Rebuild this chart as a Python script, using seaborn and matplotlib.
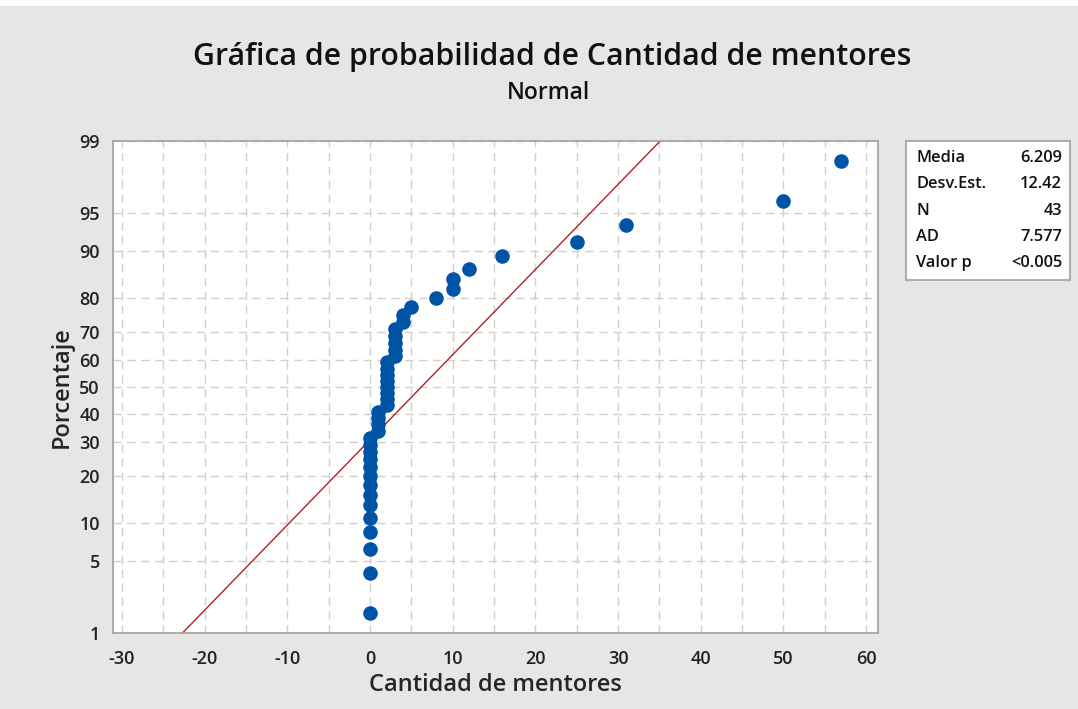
import numpy as np
import pandas as pd
import seaborn as sns
import matplotlib
matplotlib.use("Agg")
from matplotlib import pyplot as plt
from statistics import NormalDist

# values (n = 43)
mentores = [0]*14 + [1]*4 + [2]*8 + [3]*5 + [4, 4, 5, 8, 10, 10, 12, 16, 25, 31, 50, 57]
pct_ticks = [1, 5, 10, 20, 30, 40, 50, 60, 70, 80, 90, 95, 99]
x_ticks = [-30, -20, -10, 0, 10, 20, 30, 40, 50, 60]
stat_names = ["Media", "Desv.Est.", "N", "AD", "Valor p"]
stat_vals = ["6.209", "12.42", "43", "7.577", "<0.005"]

nd = NormalDist()
n = len(mentores)
df = pd.DataFrame({"x": sorted(mentores)})
# median ranks as used by Minitab
df["z"] = [nd.inv_cdf((i - 0.3) / (n + 0.4)) for i in range(1, n + 1)]

mu = np.mean(mentores)
sd = np.std(mentores, ddof=1)

sns.set_style("white")
plt.rcParams['font.family'] = ['Open Sans', 'DejaVu Sans']

fig = plt.figure(figsize=(10.78, 7.09), dpi=100)
fig.patch.set_facecolor("#e6e6e6")
# thin white strip on top like the screenshot
fig.patches.append(plt.Rectangle((0, 1-6/709), 1, 6/709, transform=fig.transFigure,
                                 facecolor="white", edgecolor="none"))

ax = fig.add_axes([113/1078, 1-633/709, 765/1078, 492/709])
ax.set_facecolor("white")

zlo, zhi = nd.inv_cdf(0.01), nd.inv_cdf(0.99)
# fitted line
ax.plot([mu + sd*zlo, mu + sd*zhi], [zlo, zhi], color="#b22222", lw=1.0, zorder=2)
sns.scatterplot(data=df, x="x", y="z", ax=ax, color="#0054a6", s=110,
                edgecolor="#0054a6", linewidth=0, zorder=3)

ax.set_xlim(-30 - 9/8.267, 60 + 12/8.267)
ax.set_ylim(zlo, zhi)
ax.set_xticks(x_ticks)
ax.set_xticks(np.arange(-30, 61, 5), minor=True)
ax.set_xticklabels([str(t) for t in x_ticks], fontsize=13, fontweight="semibold")
ax.set_yticks([nd.inv_cdf(p/100) for p in pct_ticks])
ax.set_yticklabels([str(p) for p in pct_ticks], fontsize=13, fontweight="semibold")
ax.tick_params(axis="both", which="both", direction="out", color="#909090",
               length=6, width=1, labelcolor="#222222")
ax.tick_params(axis="x", which="minor", length=4)
ax.tick_params(axis="x", which="major", pad=6)
ax.grid(True, which="both", axis="x", color="#d0d0d0", ls=(0, (6, 4)), lw=1)
ax.grid(True, which="major", axis="y", color="#d0d0d0", ls=(0, (6, 4)), lw=1)
for s in ax.spines.values():
    s.set_color("#a0a0a0")
    s.set_linewidth(1.2)
ax.set_xlabel("Cantidad de mentores", fontsize=17, fontweight="semibold", labelpad=4)
ax.set_ylabel("Porcentaje", fontsize=17, fontweight="semibold", labelpad=4)

fig.text(0.512, 1-57/709, "Gráfica de probabilidad de Cantidad de mentores",
         ha="center", va="center", fontsize=21.8, fontweight="semibold", color="#111111")
fig.text(0.509, 1-93/709, "Normal", ha="center", va="center",
         fontsize=16.5, fontweight="semibold", color="#111111")

# stats box
bx = fig.add_axes([906/1078, 1-280/709, 164/1078, 139/709])
bx.set_facecolor("white")
bx.set_xticks([]); bx.set_yticks([])
for s in bx.spines.values():
    s.set_color("#a0a0a0")
    s.set_linewidth(1.2)
for k, (nm, v) in enumerate(zip(stat_names, stat_vals)):
    yy = 1 - (17 + 26.3*k)/139
    bx.text(10/164, yy, nm, ha="left", va="center", fontsize=11.8, fontweight="semibold",
            color="#111111", transform=bx.transAxes)
    bx.text(156/164, yy, v, ha="right", va="center", fontsize=11.8, fontweight="semibold",
            color="#111111", transform=bx.transAxes)

fig.savefig("out.png", dpi=100, facecolor=fig.get_facecolor())
